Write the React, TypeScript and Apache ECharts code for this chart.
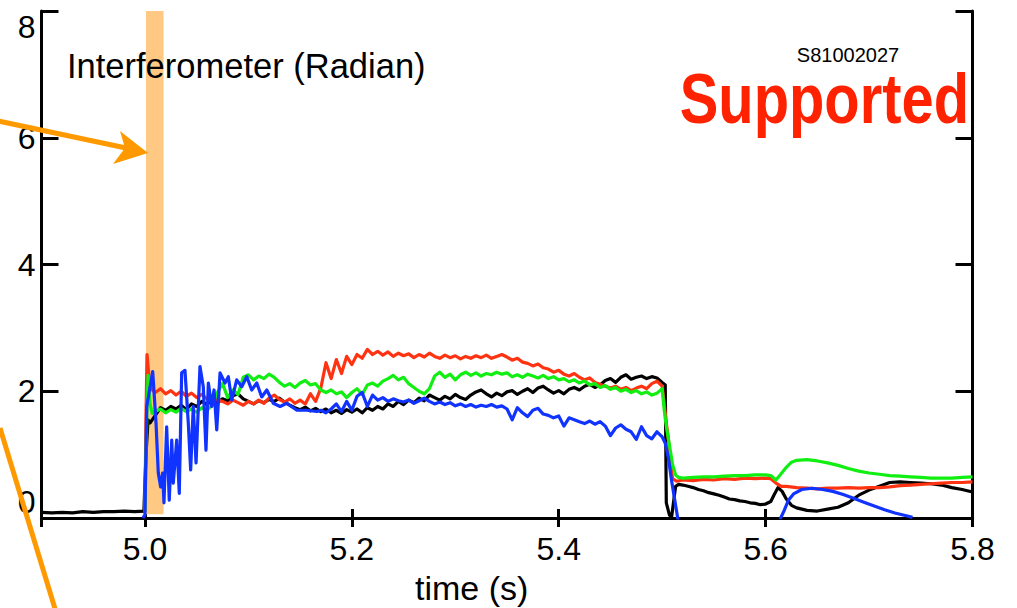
import React, { useEffect, useRef } from "react";
import * as echarts from "echarts";

// ---------- data (time in s, value in radian) ----------
const grid = (t0: number, dt: number, vals: number[]): [number, number][] =>
  vals.map((v, i) => [+(t0 + i * dt).toFixed(4), v]);

const xTicksMin = 4.9;
const xTicksMax = 5.8;
const yMin = 0;
const yMax = 8;
const yStep = 2;

const bandStart = 5.001;
const bandEnd = 5.018;

// Black
const blackPre: [number, number][] = [
  [4.9, 0.09], [4.91, 0.08], [4.92, 0.09], [4.93, 0.08], [4.94, 0.1], [4.95, 0.09],
  [4.96, 0.1], [4.97, 0.1], [4.98, 0.11], [4.99, 0.1], [4.999, 0.11], [5.001, 1.0], [5.003, 1.55],
];
const blackMain = [
  1.50, 1.62, 1.74, 1.70, 1.76, 1.72, 1.78, 1.71, 1.80, 1.76,
  1.84, 1.79, 1.86, 1.82, 1.88, 1.85, 1.93, 1.96, 1.88, 1.84,
  1.80, 1.85, 1.82, 1.87, 1.84, 1.89, 1.83, 1.78, 1.74, 1.71,
  1.75, 1.69, 1.73, 1.68, 1.72, 1.66, 1.70, 1.65, 1.71, 1.67,
  1.72, 1.66, 1.74, 1.70, 1.76, 1.72, 1.80, 1.76, 1.84, 1.79,
  1.86, 1.82, 1.89, 1.85, 1.94, 1.90, 1.86, 1.92, 1.88, 1.95,
  1.90, 1.87, 1.94, 1.99, 2.02, 1.96, 1.91, 1.97, 1.93, 1.99,
  2.01, 1.95, 2.00, 2.04, 1.98, 2.05, 2.08, 2.02, 1.97, 2.01,
  1.96, 2.03, 2.06, 2.02, 2.08, 2.11, 2.06, 2.10, 2.17, 2.20,
  2.14, 2.22, 2.26, 2.19, 2.22, 2.24, 2.20, 2.23, 2.21, 2.14,
]; // 5.005 .. 5.500
const blackTail: [number, number][] = [
  [5.503, 2.1], [5.504, 0.24], [5.507, 0.05], [5.509, 0.0], [5.513, 0.5], [5.516, 0.53],
  [5.52, 0.52], [5.525, 0.5], [5.53, 0.48], [5.535, 0.45], [5.54, 0.43], [5.545, 0.4],
  [5.55, 0.38], [5.555, 0.36], [5.56, 0.33], [5.565, 0.3], [5.57, 0.29], [5.575, 0.27],
  [5.58, 0.26], [5.585, 0.24], [5.59, 0.23], [5.595, 0.21], [5.6, 0.22], [5.605, 0.26],
  [5.608, 0.36], [5.612, 0.48], [5.616, 0.42], [5.62, 0.3], [5.625, 0.2], [5.63, 0.16],
  [5.64, 0.12], [5.65, 0.11], [5.66, 0.14], [5.67, 0.17], [5.68, 0.24], [5.69, 0.36],
  [5.7, 0.44], [5.71, 0.5], [5.72, 0.56], [5.73, 0.57], [5.74, 0.56], [5.75, 0.55],
  [5.76, 0.54], [5.77, 0.52], [5.78, 0.48], [5.79, 0.45], [5.8, 0.41],
];

// Red
const redRise: [number, number][] = [
  [5.0, 0.1], [5.001, 1.6], [5.002, 2.58], [5.0035, 2.3], [5.005, 2.05],
];
const redMain = [
  1.98, 2.04, 1.96, 2.01, 1.94, 2.00, 1.92, 1.97, 1.90, 1.95,
  1.88, 1.93, 1.86, 1.84, 1.80, 1.86, 1.82, 1.78, 1.84, 1.80,
  1.86, 1.81, 1.89, 1.94, 1.87, 1.83, 1.88, 1.81, 1.86, 1.80,
  1.96, 1.84, 2.05, 2.45, 2.20, 2.50, 2.28, 2.55, 2.42, 2.58,
  2.52, 2.66, 2.58, 2.63, 2.57, 2.62, 2.55, 2.60, 2.56, 2.59,
  2.53, 2.58, 2.54, 2.60, 2.55, 2.52, 2.57, 2.53, 2.56, 2.51,
  2.55, 2.52, 2.56, 2.53, 2.57, 2.52, 2.55, 2.58, 2.54, 2.49,
  2.52, 2.46, 2.44, 2.40, 2.43, 2.37, 2.35, 2.30, 2.33, 2.27,
  2.24, 2.28, 2.22, 2.18, 2.21, 2.14, 2.11, 2.08, 2.05, 2.08,
  2.03, 2.06, 2.01, 2.05, 2.08, 2.04, 2.12, 2.16, 2.08,
]; // 5.010 .. 5.500
const redTail: [number, number][] = [
  [5.502, 1.8], [5.504, 1.5], [5.506, 1.25], [5.508, 0.9], [5.51, 0.62], [5.514, 0.58],
  [5.52, 0.6], [5.53, 0.59], [5.54, 0.61], [5.55, 0.6], [5.56, 0.62], [5.57, 0.61],
  [5.58, 0.63], [5.59, 0.62], [5.6, 0.63], [5.605, 0.62], [5.61, 0.55], [5.615, 0.5],
  [5.62, 0.5], [5.63, 0.48], [5.64, 0.47], [5.65, 0.46], [5.66, 0.47], [5.67, 0.47],
  [5.68, 0.48], [5.69, 0.47], [5.7, 0.48], [5.71, 0.48], [5.72, 0.49], [5.73, 0.51],
  [5.74, 0.52], [5.75, 0.53], [5.76, 0.54], [5.77, 0.55], [5.78, 0.56], [5.79, 0.56], [5.8, 0.57],
];

// Green
const greenRise: [number, number][] = [
  [5.0, 0.1], [5.001, 1.0], [5.002, 1.75], [5.003, 2.25], [5.005, 1.8], [5.007, 1.65],
];
const greenMain = [
  1.68, 1.72, 1.66, 1.71, 1.67, 1.73, 1.68, 1.72, 1.67, 1.74,
  1.70, 1.78, 1.98, 2.12, 1.90, 2.02, 1.95, 2.22, 2.26, 2.18,
  2.24, 2.20, 2.27, 2.22, 2.14, 2.08, 2.12, 2.06, 2.13, 2.17,
  2.10, 2.12, 2.02, 1.98, 2.02, 1.96, 1.99, 1.90, 1.98, 2.04,
  1.95, 2.10, 2.13, 2.08, 2.16, 2.20, 2.25, 2.18, 2.22, 2.12,
  2.06, 2.00, 1.96, 2.04, 2.24, 2.30, 2.22, 2.27, 2.18, 2.26,
  2.30, 2.25, 2.29, 2.24, 2.28, 2.26, 2.30, 2.27, 2.29, 2.23,
  2.26, 2.22, 2.27, 2.24, 2.21, 2.25, 2.20, 2.23, 2.18, 2.20,
  2.15, 2.18, 2.13, 2.16, 2.10, 2.12, 2.06, 2.09, 2.03, 2.06,
  2.00, 2.03, 1.98, 2.01, 1.96, 1.99, 1.94, 1.97, 2.04,
]; // 5.010 .. 5.500
const greenTail: [number, number][] = [
  [5.502, 1.7], [5.504, 1.45], [5.507, 1.15], [5.51, 0.85], [5.513, 0.68], [5.516, 0.64],
  [5.52, 0.63], [5.53, 0.64], [5.54, 0.65], [5.55, 0.65], [5.56, 0.66], [5.57, 0.67],
  [5.58, 0.67], [5.59, 0.68], [5.6, 0.68], [5.605, 0.67], [5.61, 0.6], [5.615, 0.7],
  [5.62, 0.8], [5.625, 0.88], [5.63, 0.91], [5.64, 0.92], [5.65, 0.9], [5.66, 0.87],
  [5.67, 0.83], [5.68, 0.78], [5.69, 0.74], [5.7, 0.71], [5.71, 0.69], [5.72, 0.67],
  [5.73, 0.66], [5.74, 0.65], [5.75, 0.64], [5.76, 0.63], [5.77, 0.63], [5.78, 0.63],
  [5.79, 0.64], [5.8, 0.65],
];

// Blue
const blueStart: [number, number][] = [
  [4.998, 0.0], [5.0, 0.05], [5.0017, 1.76], [5.0075, 2.31], [5.0107, 1.5], [5.0129, 0.71],
  [5.0152, 0.49], [5.0171, 0.71], [5.0184, 0.24], [5.021, 1.44], [5.0235, 0.28],
  [5.0259, 1.23], [5.0274, 0.55], [5.0307, 1.23], [5.0332, 0.39], [5.0355, 2.29],
  [5.0387, 2.33], [5.0419, 1.5], [5.0442, 0.76], [5.0467, 1.76], [5.0494, 0.87],
  [5.0532, 2.39], [5.0564, 2.07], [5.059, 1.07], [5.0613, 2.13], [5.0645, 1.76],
  [5.0668, 2.02], [5.0694, 1.39], [5.0726, 2.29], [5.0774, 2.13], [5.0806, 2.23],
  [5.0839, 1.86], [5.0887, 2.18], [5.0936, 2.07], [5.0984, 2.23], [5.1032, 2.02],
  [5.1081, 2.13], [5.1129, 1.91], [5.1178, 2.02], [5.1241, 1.81], [5.1306, 1.76],
  [5.1371, 1.81], [5.1468, 1.7], [5.1564, 1.7], [5.1661, 1.68],
];
const blueMain = [
  1.70, 1.66, 1.72, 1.80, 1.68, 1.84, 1.70, 1.92, 1.98, 1.76,
  1.94, 1.86, 1.90, 1.84, 1.88, 1.85, 1.83, 1.86, 1.81, 1.85,
  1.89, 1.84, 1.80, 1.83, 1.79, 1.82, 1.77, 1.80, 1.76, 1.79,
  1.75, 1.78, 1.76, 1.79, 1.75, 1.77, 1.72, 1.55, 1.74, 1.66,
  1.60, 1.70, 1.73, 1.64, 1.62, 1.58, 1.61, 1.45, 1.58, 1.55,
  1.52, 1.49, 1.53, 1.48, 1.52, 1.45, 1.30, 1.42, 1.47, 1.40,
  1.36, 1.24, 1.44, 1.30, 1.25, 1.36, 1.28,
]; // 5.170 .. 5.500
const blueDrop: [number, number][] = [
  [5.503, 1.18], [5.506, 0.95], [5.509, 0.6], [5.512, 0.3], [5.5155, -0.05],
];
const blueLate: [number, number][] = [
  [5.614, -0.02], [5.618, 0.12], [5.622, 0.28], [5.627, 0.38], [5.635, 0.45], [5.645, 0.47],
  [5.655, 0.45], [5.665, 0.42], [5.675, 0.37], [5.685, 0.31], [5.695, 0.25], [5.705, 0.19],
  [5.715, 0.13], [5.725, 0.08], [5.735, 0.04], [5.742, 0.01],
];

const blackData = [...blackPre, ...grid(5.005, 0.005, blackMain), ...blackTail];
const redData = [...redRise, ...grid(5.01, 0.005, redMain), ...redTail];
const greenData = [...greenRise, ...grid(5.01, 0.005, greenMain), ...greenTail];
const blueData = [...blueStart, ...grid(5.17, 0.005, blueMain), ...blueDrop];

const FONT = "'Liberation Sans', Arial, Helvetica, sans-serif";
const ORANGE = "#ff9900";

export default function App() {
  const ref = useRef<HTMLDivElement>(null);
  useEffect(() => {
    if (!ref.current) return;
    const chart = echarts.init(ref.current, undefined, { renderer: "svg" });
    const axisLine = { show: true, lineStyle: { color: "#000", width: 3 } };
    const xCommon = {
      type: "value" as const,
      min: xTicksMin,
      max: xTicksMax,
      splitNumber: 5,
      splitLine: { show: false },
      axisLine,
    };
    const yCommon = {
      type: "value" as const,
      min: yMin,
      max: yMax,
      interval: yStep,
      splitLine: { show: false },
      axisLine,
    };
    const line = (data: any, color: string, z: number) => ({
      type: "line",
      data,
      showSymbol: false,
      symbol: "none",
      clip: true,
      z,
      lineStyle: { color, width: 3.2, join: "round" },
      silent: true,
    });
    chart.setOption({
      animation: false,
      backgroundColor: "#fff",
      grid: { left: 41.5, right: 44.5, top: 11, bottom: 90 },
      xAxis: [
        {
          ...xCommon,
          position: "bottom",
          axisTick: { inside: true, length: 9, lineStyle: { color: "#000", width: 3 } },
          axisLabel: {
            color: "#000",
            fontSize: 32,
            fontFamily: FONT,
            margin: 15,
            formatter: (v: number) => (v < 4.95 ? "" : v.toFixed(1)),
          },
        },
        {
          ...xCommon,
          position: "top",
          axisTick: { inside: true, length: 9, lineStyle: { color: "#000", width: 3 } },
          axisLabel: { show: false },
        },
      ],
      yAxis: [
        {
          ...yCommon,
          position: "left",
          axisTick: { inside: true, length: 17, lineStyle: { color: "#000", width: 3 } },
          axisLabel: {
            color: "#000",
            fontSize: 32,
            fontFamily: FONT,
            margin: 6,
            verticalAlignMinLabel: "bottom",
            verticalAlignMaxLabel: "top",
          },
        },
        {
          ...yCommon,
          position: "right",
          axisTick: { inside: true, length: 17, lineStyle: { color: "#000", width: 3 } },
          axisLabel: { show: false },
        },
      ],
      series: [
        {
          type: "line",
          data: [],
          z: 1,
          silent: true,
          markArea: {
            silent: true,
            itemStyle: { color: "#ffc983", opacity: 1 },
            data: [[{ xAxis: bandStart, yAxis: 0.06 }, { xAxis: bandEnd, yAxis: yMax }]],
          },
        },
        line(blackData, "#000000", 3),
        line(redData, "#ff3311", 4),
        line(greenData, "#11ee11", 5),
        line(blueData, "#1133ff", 6),
        line(blueLate, "#1133ff", 6),
      ],
      graphic: [
        {
          type: "text",
          x: 67,
          y: 66,
          z: 200,
          style: { text: "Interferometer (Radian)", fill: "#000", font: `34.5px ${FONT}`, textAlign: "left", textVerticalAlign: "middle" },
        },
        {
          type: "text",
          x: 848,
          y: 55,
          z: 200,
          style: { text: "S81002027", fill: "#000", font: `20px ${FONT}`, textAlign: "center", textVerticalAlign: "middle" },
        },
        {
          type: "text",
          x: 969,
          y: 98,
          z: 200,
          scaleX: 0.815,
          style: { text: "Supported", fill: "#ff2200", font: `bold 71px ${FONT}`, textAlign: "right", textVerticalAlign: "middle" },
        },
        {
          type: "text",
          x: 415,
          y: 588,
          z: 200,
          style: { text: "time (s)", fill: "#000", font: `34px ${FONT}`, textAlign: "left", textVerticalAlign: "middle" },
        },
        {
          type: "line",
          shape: { x1: -2, y1: 121, x2: 126, y2: 148 },
          style: { stroke: ORANGE, lineWidth: 5 },
          z: 100,
        },
        {
          type: "polygon",
          shape: { points: [[148, 153], [120, 131], [125, 148], [113, 164]] },
          style: { fill: ORANGE },
          z: 100,
        },
        {
          type: "line",
          shape: { x1: 0, y1: 428, x2: 56, y2: 612 },
          style: { stroke: ORANGE, lineWidth: 5 },
          z: 100,
        },
      ],
    });
    return () => chart.dispose();
  }, []);
  return (
    <div
      ref={ref}
      style={{ position: "fixed", left: 0, top: 0, width: 1017, height: 608, background: "#fff" }}
    />
  );
}
